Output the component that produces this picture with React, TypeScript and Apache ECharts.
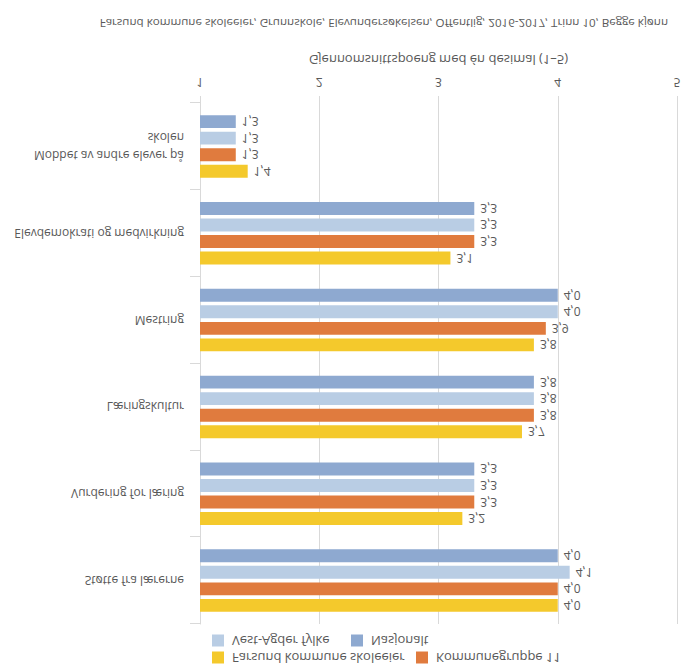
import React, { useEffect, useRef } from "react";
import * as echarts from "echarts";

// Categories, listed from the bottom of the (unflipped) category axis upwards
const categories = [
  "Mobbet av andre elever på\nskolen",
  "Elevdemokrati og medvirkning",
  "Mestring",
  "Læringskultur",
  "Vurdering for læring",
  "Støtte fra lærerne",
];

const farsund = [1.4, 3.1, 3.8, 3.7, 3.2, 4.0];
const kommunegruppe = [1.3, 3.3, 3.9, 3.8, 3.3, 4.0];
const vestAgder = [1.3, 3.3, 4.0, 3.8, 3.3, 4.1];
const nasjonalt = [1.3, 3.3, 4.0, 3.8, 3.3, 4.0];

const seriesNames = ["Farsund kommune skoleeier", "Kommunegruppe 11", "Vest-Agder fylke", "Nasjonalt"];
const seriesColors = ["#f4c92c", "#e07b3e", "#b9cde4", "#8ea9d0"];
const seriesData = [farsund, kommunegruppe, vestAgder, nasjonalt];

const titleText =
  "Farsund kommune skoleeier, Grunnskole, Elevundersøkelsen, Offentlig, 2016-2017, Trinn 10, Begge kjønn";
const axisName = "Gjennomsnittspoeng med én desimal (1–5)";

const FONT = "'Open Sans', 'Noto Sans', sans-serif";
const GREY = "#595959";

export default function App() {
  const ref = useRef<HTMLDivElement>(null);
  useEffect(() => {
    if (!ref.current) return;
    const chart = echarts.init(ref.current, undefined, { renderer: "svg" });
    const legendPos = [
      { name: seriesNames[0], left: 212, top: 7 },
      { name: seriesNames[1], left: 416, top: 7 },
      { name: seriesNames[2], left: 212, top: 24 },
      { name: seriesNames[3], left: 351, top: 24 },
    ];
    chart.setOption({
      animation: false,
      backgroundColor: "#ffffff",
      textStyle: { fontFamily: FONT },
      title: {
        text: titleText,
        right: 27,
        top: 642,
        padding: 0,
        textStyle: { fontSize: 11.6, fontWeight: "normal", color: GREY, fontFamily: FONT },
      },
      legend: legendPos.map((l) => ({
        data: [l.name],
        left: l.left,
        top: l.top,
        itemWidth: 12,
        itemHeight: 12,
        padding: 0,
        selectedMode: false,
        icon: "rect",
        textStyle: { fontSize: 13, color: GREY, fontFamily: FONT, padding: [0, 0, 0, 3] },
      })),
      grid: { left: 200, right: 18, top: 47, bottom: 103, containLabel: false },
      xAxis: {
        type: "value",
        min: 1,
        max: 5,
        interval: 1,
        name: axisName,
        nameLocation: "middle",
        nameGap: 37,
        nameTextStyle: { fontSize: 13, color: GREY, fontFamily: FONT },
        axisLine: { show: false },
        axisTick: { show: true, length: 7, lineStyle: { color: "#d9d9d9" } },
        axisLabel: { fontSize: 12, color: GREY, margin: 15, fontFamily: FONT },
        splitLine: { show: true, lineStyle: { color: "#d9d9d9" } },
      },
      yAxis: {
        type: "category",
        data: categories,
        axisLine: { show: true, lineStyle: { color: "#d9d9d9" } },
        axisTick: { show: true, length: 10, lineStyle: { color: "#d9d9d9" } },
        axisLabel: { fontSize: 12, color: GREY, margin: 16, align: "right", lineHeight: 18, fontFamily: FONT },
      },
      series: seriesNames.map((name, i) => ({
        name,
        type: "bar",
        data: seriesData[i],
        barCategoryGap: "28%",
        barGap: "28%",
        itemStyle: { color: seriesColors[i] },
        label: {
          show: true,
          position: "right",
          distance: 6,
          fontSize: 12,
          color: GREY,
          fontFamily: FONT,
          formatter: (p: any) => Number(p.value).toFixed(1).replace(".", ","),
        },
      })),
    });
    return () => chart.dispose();
  }, []);
  return (
    <div
      ref={ref}
      style={{
        position: "absolute",
        left: 0,
        top: 0,
        width: 695,
        height: 671,
        transform: "scaleY(-1)",
        background: "#ffffff",
      }}
    />
  );
}
